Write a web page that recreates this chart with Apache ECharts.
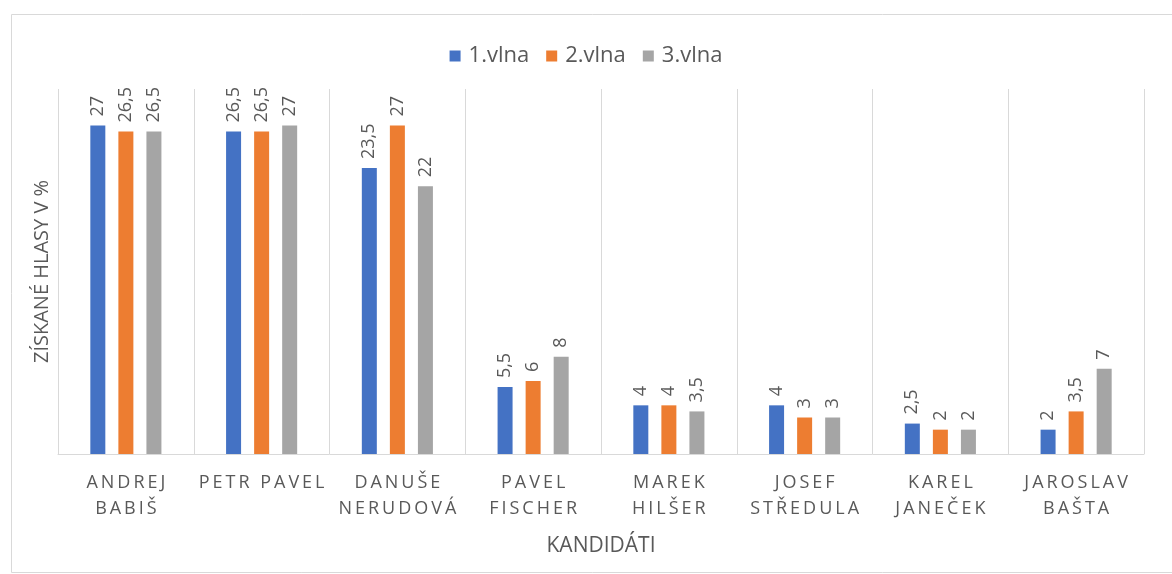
<!DOCTYPE html>
<html>
<head>
<meta charset="utf-8">
<script src="https://cdn.jsdelivr.net/npm/echarts@6/dist/echarts.min.js"></script>
<style>
  html, body { margin: 0; padding: 0; background: #fff; }
  #chart { width: 1172px; height: 574px; }
</style>
</head>
<body>
<div id="chart"></div>
<script>
// kandidáti a výsledky ve třech vlnách
var categories = ['ANDREJ\nBABIŠ', 'PETR PAVEL', 'DANUŠE\nNERUDOVÁ', 'PAVEL\nFISCHER',
  'MAREK\nHILŠER', 'JOSEF\nSTŘEDULA', 'KAREL\nJANEČEK', 'JAROSLAV\nBAŠTA'];
var vlna1 = [27, 26.5, 23.5, 5.5, 4, 4, 2.5, 2];
var vlna2 = [26.5, 26.5, 27, 6, 4, 3, 2, 3.5];
var vlna3 = [26.5, 27, 22, 8, 3.5, 3, 2, 7];
var seriesNames = ['1.vlna', '2.vlna', '3.vlna'];

var textColor = '#595959';
var font = 'Open Sans';

// rozpálení písmen jako v Excelu
function spaced(s) {
  return s.split('\n').map(function (line) {
    return line.split('').join('\u2009');
  }).join('\n');
}

function makeSeries(name, data, color) {
  return {
    name: name,
    type: 'bar',
    data: data,
    barWidth: 15,
    barGap: '87%',
    itemStyle: { color: color },
    label: {
      show: true,
      position: 'top',
      rotate: 90,
      align: 'left',
      verticalAlign: 'middle',
      distance: 9,
      color: textColor,
      fontFamily: font,
      fontSize: 18,
      formatter: function (p) { return String(p.value).replace('.', ','); }
    }
  };
}

var chart = echarts.init(document.getElementById('chart'));
var option = {
  animation: false,
  textStyle: { fontFamily: font },
  graphic: [{
    type: 'rect',
    shape: { x: 11.5, y: 14.5, width: 1300, height: 558 },
    style: { fill: 'none', stroke: '#d9d9d9', lineWidth: 1 },
    silent: true
  }],
  legend: {
    data: seriesNames,
    top: 40,
    left: 'center',
    icon: 'rect',
    itemWidth: 11,
    itemHeight: 11,
    itemGap: 17,
    textStyle: { color: textColor, fontSize: 22, fontFamily: font, padding: [0, 0, 0, 3] }
  },
  grid: { left: 58, right: 28, top: 89, bottom: 120 },
  xAxis: {
    type: 'category',
    data: categories,
    name: 'KANDIDÁTI',
    nameLocation: 'middle',
    nameGap: 82,
    nameTextStyle: { color: textColor, fontSize: 21, fontFamily: font },
    axisLine: { lineStyle: { color: '#d9d9d9', width: 1 } },
    axisTick: { show: false },
    splitLine: { show: true, lineStyle: { color: '#d9d9d9', width: 1 } },
    axisLabel: {
      color: textColor,
      fontSize: 18,
      fontFamily: font,
      margin: 16,
      lineHeight: 26,
      interval: 0,
      formatter: spaced
    }
  },
  yAxis: {
    type: 'value',
    min: 0,
    max: 30,
    name: 'ZÍSKANÉ HLASY V %',
    nameLocation: 'middle',
    nameGap: 6,
    nameRotate: 90,
    nameTextStyle: { color: textColor, fontSize: 20, fontFamily: font },
    axisLabel: { show: false },
    axisLine: { show: false },
    axisTick: { show: false },
    splitLine: { show: false }
  },
  series: [
    makeSeries(seriesNames[0], vlna1, '#4472C4'),
    makeSeries(seriesNames[1], vlna2, '#ED7D31'),
    makeSeries(seriesNames[2], vlna3, '#A5A5A5')
  ]
};
chart.setOption(option);
</script>
</body>
</html>
